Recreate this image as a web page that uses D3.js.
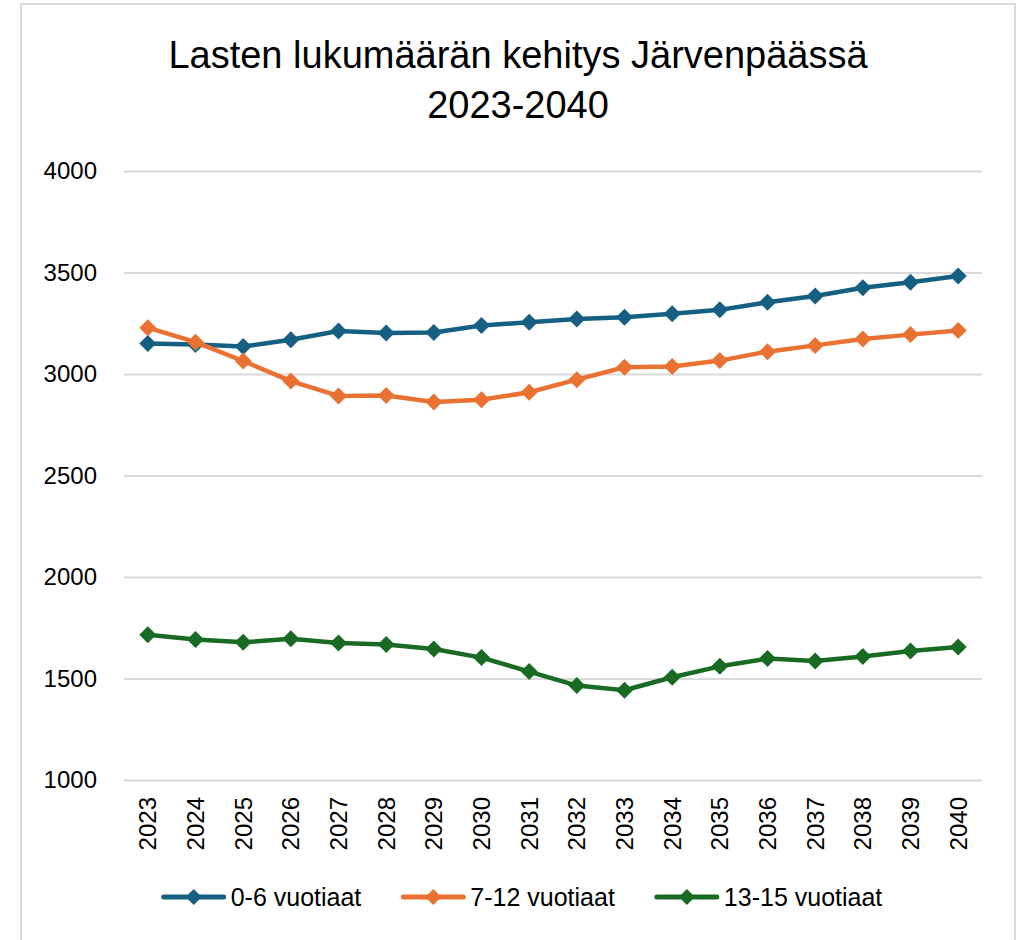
<!DOCTYPE html>
<html>
<head>
<meta charset="utf-8">
<script src="https://cdn.jsdelivr.net/npm/d3@7"></script>
<style>
  html, body { margin: 0; padding: 0; background: #fff; }
  svg { display: block; font-family: "Liberation Sans", Arial, sans-serif; }
</style>
</head>
<body>
<svg id="chart" width="1023" height="940"></svg>
<script>
const titleLines = ["Lasten lukumäärän kehitys Järvenpäässä", "2023-2040"];
const years = ["2023","2024","2025","2026","2027","2028","2029","2030","2031","2032","2033","2034","2035","2036","2037","2038","2039","2040"];
const seriesNames = ["0-6 vuotiaat", "7-12 vuotiaat", "13-15 vuotiaat"];
const seriesColors = ["#156082", "#E97132", "#196B24"];
const values06 = [3150, 3145, 3135, 3169, 3212, 3202, 3204, 3239, 3255, 3271, 3280, 3297, 3316, 3353, 3384, 3425, 3452, 3483];
const values712 = [3228, 3157, 3064, 2965, 2892, 2894, 2862, 2873, 2910, 2972, 3033, 3037, 3066, 3110, 3141, 3172, 3194, 3214];
const values1315 = [1716, 1692, 1678, 1696, 1675, 1667, 1645, 1603, 1534, 1465, 1442, 1506, 1560, 1598, 1586, 1608, 1635, 1655];
const yTicks = [1000, 1500, 2000, 2500, 3000, 3500, 4000];

const seriesValues = [values06, values712, values1315];

const svg = d3.select("#chart");

// chart border
svg.append("rect")
  .attr("x", 21).attr("y", 4)
  .attr("width", 994).attr("height", 980)
  .attr("fill", "#fff")
  .attr("stroke", "#d9d9d9").attr("stroke-width", 2);

const plot = {left: 124, right: 982, top: 171, bottom: 780};

const x = d3.scaleBand().domain(years).range([plot.left, plot.right]).padding(0);
const cx = d => x(d) + x.bandwidth() / 2;
const y = d3.scaleLinear().domain([1000, 4000]).range([plot.bottom, plot.top]);

// title
svg.append("g").selectAll("text").data(titleLines).join("text")
  .attr("x", 518)
  .attr("y", (d, i) => 68 + i * 50)
  .attr("text-anchor", "middle")
  .attr("font-size", 38)
  .attr("fill", "#000")
  .text(d => d);

// gridlines
const yAxis = d3.axisLeft(y).tickValues(yTicks).tickSize(-(plot.right - plot.left)).tickPadding(27).tickFormat(d3.format("d"));
const gy = svg.append("g").attr("transform", `translate(${plot.left},0)`).call(yAxis);
gy.select(".domain").remove();
gy.selectAll(".tick line").attr("stroke", "#d9d9d9").attr("stroke-width", 2);
gy.selectAll(".tick text").attr("font-size", 24).attr("fill", "#000")
  .attr("font-family", "'Liberation Sans', Arial, sans-serif");

// x axis labels
const xAxis = d3.axisBottom(x).tickSize(0).tickPadding(0);
const gx = svg.append("g").attr("transform", `translate(0,${plot.bottom})`).call(xAxis);
gx.select(".domain").remove();
gx.selectAll(".tick text")
  .attr("font-size", 24).attr("fill", "#000")
  .attr("font-family", "'Liberation Sans', Arial, sans-serif")
  .attr("text-anchor", "end")
  .attr("transform", "translate(0,17) rotate(-90)")
  .attr("x", 0).attr("y", 0).attr("dy", "0.35em");

const diamond = s => `M0,${-s}L${s},0L0,${s}L${-s},0Z`;

const line = d3.line().x((d, i) => cx(years[i])).y(d => y(d));

seriesValues.forEach((vals, si) => {
  const g = svg.append("g");
  g.append("path").datum(vals)
    .attr("d", line)
    .attr("fill", "none")
    .attr("stroke", seriesColors[si])
    .attr("stroke-width", 4.5)
    .attr("stroke-linejoin", "round");
  g.selectAll("path.m").data(vals).join("path")
    .attr("class", "m")
    .attr("d", diamond(8.5))
    .attr("transform", (d, i) => `translate(${cx(years[i])},${y(d)})`)
    .attr("fill", seriesColors[si]);
});

// legend
const legend = svg.append("g");
let lx = 0;
const legendY = 897;
seriesNames.forEach((name, i) => {
  const it = legend.append("g").attr("transform", `translate(${lx},${legendY})`);
  it.append("line").attr("x1", 0).attr("x2", 60).attr("y1", 0).attr("y2", 0)
    .attr("stroke", seriesColors[i]).attr("stroke-width", 5).attr("stroke-linecap", "round");
  it.append("path").attr("d", diamond(8)).attr("transform", "translate(30,0)").attr("fill", seriesColors[i]);
  const t = it.append("text").attr("x", 67).attr("y", 0).attr("dy", "0.35em")
    .attr("font-size", 25).attr("fill", "#000").text(name);
  const w = t.node().getComputedTextLength();
  lx += 67 + w + 42;
});
const totalW = lx - 42;
legend.attr("transform", `translate(${523 - totalW / 2},0)`);
</script>
</body>
</html>
